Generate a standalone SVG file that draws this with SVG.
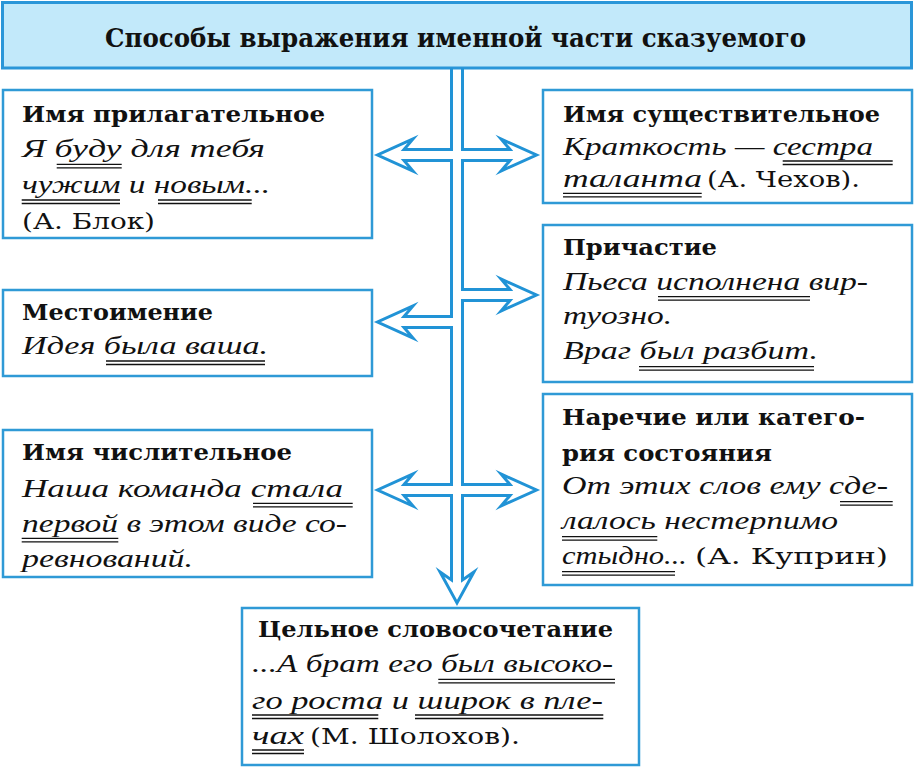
<svg xmlns="http://www.w3.org/2000/svg" width="914" height="768" viewBox="0 0 914 768">
<style>
.box{fill:#ffffff;stroke:#2f9ad6;stroke-width:2.5}
.title{fill:#c2e9fa;stroke:#2a96d8;stroke-width:3}
.conn{fill:none;stroke:#2193d6;stroke-width:3;stroke-linejoin:miter;stroke-miterlimit:6}
.h{font-family:"DejaVu Serif","Liberation Serif",serif;font-weight:bold;font-size:22px;fill:#111}
.t{font-family:"DejaVu Serif","Liberation Serif",serif;font-weight:bold;font-size:26px;fill:#111}
.i{font-family:"Liberation Serif","DejaVu Serif",serif;font-style:italic;font-size:25px;fill:#111}
.r{font-family:"DejaVu Serif","Liberation Serif",serif;font-size:23px;fill:#111}
.u{stroke:#111;stroke-width:1.3;fill:none}
</style>
<rect x="0" y="0" width="914" height="768" fill="#ffffff"/>
<g id="title">
<rect class="title" x="2.5" y="2.5" width="909" height="65.5"/>
<text class="t" x="105" y="47" textLength="701" lengthAdjust="spacingAndGlyphs">Способы выражения именной части сказуемого</text>
</g>
<g id="connectors">
<path class="conn" d="M451.5,68 V149.5 H404 L413,139 L377.5,155 L413,171 L404,160.5 H451.5 V316.5 H404 L413,306 L377.5,322 L413,338 L404,327.5 H451.5 V484.5 H404 L413,474 L377.5,490 L413,506 L404,495.5 H451.5 V580 L440,572 L457,603 L474,572 L462.5,580 V495.5 H510 L501,506 L536.5,490 L501,474 L510,484.5 H462.5 V300.5 H510 L501,311 L536.5,295 L501,279 L510,289.5 H462.5 V160.5 H510 L501,171 L536.5,155 L501,139 L510,149.5 H462.5 V68"/>
</g>
<g id="adjective">
<rect class="box" x="3" y="90" width="369" height="148"/>
<text class="h" x="22" y="122" textLength="303" lengthAdjust="spacingAndGlyphs">Имя прилагательное</text>
<text class="i" x="22" y="157" textLength="243" lengthAdjust="spacingAndGlyphs">Я буду для тебя</text>
<text class="i" x="22" y="193" textLength="248" lengthAdjust="spacingAndGlyphs">чужим и новым...</text>
<text class="r" x="22" y="228.5" textLength="133" lengthAdjust="spacingAndGlyphs">(А. Блок)</text>
<path class="u" d="M56.7,164.3 H121.7 M56.7,167.8 H121.7 M21.7,200 H120 M21.7,203.5 H120 M158,200 H251.7 M158,203.5 H251.7"/>
</g>
<g id="noun">
<rect class="box" x="543" y="90" width="369" height="113"/>
<text class="h" x="563" y="122" textLength="317" lengthAdjust="spacingAndGlyphs">Имя существительное</text>
<text class="i" x="563" y="155" textLength="310" lengthAdjust="spacingAndGlyphs">Краткость — сестра</text>
<text class="i" x="563" y="187" textLength="139" lengthAdjust="spacingAndGlyphs">таланта</text>
<text class="r" x="707" y="187" textLength="153" lengthAdjust="spacingAndGlyphs">(А. Чехов).</text>
<path class="u" d="M782.7,161 H892.7 M782.7,164.5 H892.7 M563,193.3 H701.7 M563,196.8 H701.7"/>
</g>
<g id="participle">
<rect class="box" x="543" y="225" width="369" height="157"/>
<text class="h" x="563" y="255" textLength="154" lengthAdjust="spacingAndGlyphs">Причастие</text>
<text class="i" x="563" y="290" textLength="305" lengthAdjust="spacingAndGlyphs">Пьеса исполнена вир-</text>
<text class="i" x="563" y="323.5" textLength="109" lengthAdjust="spacingAndGlyphs">туозно.</text>
<text class="i" x="563" y="358.5" textLength="255" lengthAdjust="spacingAndGlyphs">Враг был разбит.</text>
<path class="u" d="M658,296.7 H810 M658,300.2 H810 M639,366.7 H814 M639,370.2 H814"/>
</g>
<g id="pronoun">
<rect class="box" x="3" y="290" width="369" height="86"/>
<text class="h" x="22" y="319.5" textLength="191" lengthAdjust="spacingAndGlyphs">Местоимение</text>
<text class="i" x="22" y="353.5" textLength="246" lengthAdjust="spacingAndGlyphs">Идея была ваша.</text>
<path class="u" d="M106,361 H265 M106,364.5 H265"/>
</g>
<g id="numeral">
<rect class="box" x="3" y="430" width="369" height="147"/>
<text class="h" x="22" y="460" textLength="270" lengthAdjust="spacingAndGlyphs">Имя числительное</text>
<text class="i" x="22" y="497" textLength="321" lengthAdjust="spacingAndGlyphs">Наша команда стала</text>
<text class="i" x="22" y="532" textLength="325" lengthAdjust="spacingAndGlyphs">первой в этом виде со-</text>
<text class="i" x="22" y="567" textLength="171" lengthAdjust="spacingAndGlyphs">ревнований.</text>
<path class="u" d="M253,503.3 H352.7 M253,506.8 H352.7 M21.7,538.3 H118.3 M21.7,541.8 H118.3"/>
</g>
<g id="adverb">
<rect class="box" x="543" y="394" width="369" height="191"/>
<text class="h" x="562" y="425" textLength="303" lengthAdjust="spacingAndGlyphs">Наречие или катего-</text>
<text class="h" x="562" y="461" textLength="210" lengthAdjust="spacingAndGlyphs">рия состояния</text>
<text class="i" x="562" y="493.5" textLength="326" lengthAdjust="spacingAndGlyphs">От этих слов ему сде-</text>
<text class="i" x="562" y="528.5" textLength="276" lengthAdjust="spacingAndGlyphs">лалось нестерпимо</text>
<text class="i" x="562" y="563.5" textLength="125" lengthAdjust="spacingAndGlyphs">стыдно...</text>
<text class="r" x="695" y="563.5" textLength="193" lengthAdjust="spacingAndGlyphs">(А. Куприн)</text>
<path class="u" d="M840,501.7 H892.7 M840,505.2 H892.7 M562,536.7 H657.3 M562,540.2 H657.3 M562,571.7 H675 M562,575.2 H675"/>
</g>
<g id="phrase">
<rect class="box" x="242" y="608" width="397" height="157"/>
<text class="h" x="258" y="637" textLength="355" lengthAdjust="spacingAndGlyphs">Цельное словосочетание</text>
<text class="i" x="252" y="672" textLength="361" lengthAdjust="spacingAndGlyphs">...А брат его был высоко-</text>
<text class="i" x="252" y="708.5" textLength="351" lengthAdjust="spacingAndGlyphs">го роста и широк в пле-</text>
<text class="i" x="252" y="743.5" textLength="52" lengthAdjust="spacingAndGlyphs">чах</text>
<text class="r" x="310" y="743.5" textLength="210" lengthAdjust="spacingAndGlyphs">(М. Шолохов).</text>
<path class="u" d="M438.3,679.3 H615 M438.3,682.8 H615 M252,715 H378.3 M252,718.5 H378.3 M415,715 H603.3 M415,718.5 H603.3 M252,750 H304 M252,753.5 H304"/>
</g>
</svg>
